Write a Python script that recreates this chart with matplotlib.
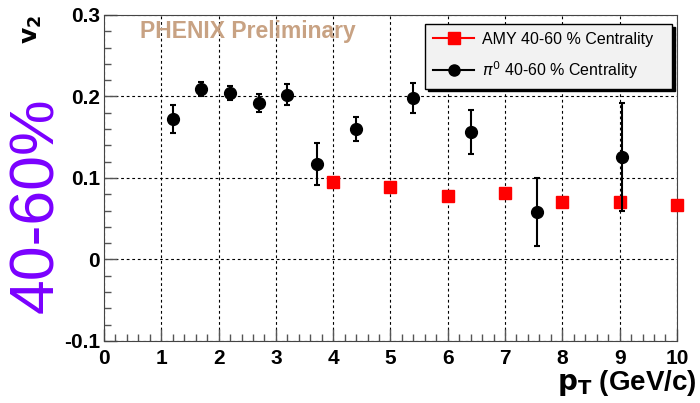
import matplotlib
matplotlib.use('Agg')
import matplotlib.pyplot as plt
from matplotlib.lines import Line2D
from matplotlib.ticker import MultipleLocator

plt.rcParams['font.family'] = ['Liberation Sans', 'DejaVu Sans']

# pi0 v2, 40-60 % centrality
pi0_pt = [1.20, 1.70, 2.20, 2.71, 3.20, 3.72, 4.40, 5.39, 6.40, 7.56, 9.04]
pi0_v2 = [0.172, 0.209, 0.204, 0.192, 0.202, 0.117, 0.160, 0.198, 0.156, 0.058, 0.126]
pi0_err = [0.017, 0.009, 0.009, 0.011, 0.013, 0.026, 0.015, 0.018, 0.027, 0.042, 0.066]

# AMY calculation
amy_pt = [4, 5, 6, 7, 8, 9, 10]
amy_v2 = [0.095, 0.089, 0.078, 0.082, 0.070, 0.071, 0.067]

fig = plt.figure(figsize=(7, 4.03), dpi=100)
ax = fig.add_axes([0.1486, 0.154, 0.8184, 0.809])

ax.errorbar(pi0_pt, pi0_v2, yerr=pi0_err, fmt='o', color='black', ms=8.5,
            elinewidth=1.5, capsize=2.5, capthick=1.5, zorder=4)
ax.plot(amy_pt, amy_v2, 's', color='red', ms=8, zorder=3, clip_on=False)

ax.set_xlim(0, 10)
ax.set_ylim(-0.1, 0.3)
ax.xaxis.set_major_locator(MultipleLocator(1))
ax.xaxis.set_minor_locator(MultipleLocator(0.2))
ax.yaxis.set_minor_locator(MultipleLocator(0.02))
ax.set_yticks([-0.1, 0, 0.1, 0.2, 0.3])
ax.set_yticklabels(['-0.1', '0', '0.1', '0.2', '0.3'])
ax.tick_params(which='both', direction='in', top=False, right=False, color='#555555')
ax.tick_params(which='major', length=9, width=1)
ax.tick_params(which='minor', length=5, width=1)
ax.tick_params(axis='both', labelsize=15)
ax.tick_params(axis='x', pad=6)
ax.tick_params(axis='y', pad=3)
for lab in ax.get_xticklabels() + ax.get_yticklabels():
    lab.set_fontweight('bold')
for s in ax.spines.values():
    s.set_color('#444444')
ax.grid(True, which='major', color='black', linestyle=(0, (2.5, 2.5)), linewidth=0.8)

fig.text(697 / 700, 1 - 383 / 403, r'$\mathbf{p_T}$ (GeV/c)', fontsize=20,
         fontweight='bold', ha='right', va='center')
ax.text(-0.125, 1.0, r'$\mathbf{v_2}$', transform=ax.transAxes, rotation=90,
        fontsize=18, fontweight='bold', ha='center', va='top')

ax.text(0.063, 0.95, 'PHENIX Preliminary', transform=ax.transAxes, fontsize=16.5,
        fontweight='bold', color='#c8a283', va='center')

fig.text(0.052, 0.49, '40-60%', rotation=90, fontsize=45, color='#7a00ff',
         ha='center', va='center')

handles = [Line2D([], [], color='red', marker='s', ms=8, lw=1.5),
           Line2D([], [], color='black', marker='o', ms=8, lw=1.5)]
labels = ['AMY 40-60 % Centrality', r'$\pi^0$ 40-60 % Centrality']
leg = ax.legend(handles, labels, loc='upper left',
                bbox_to_anchor=(0.56, 0.779, 0.431, 0.193), mode='expand',
                borderaxespad=0, fontsize=11.5, frameon=True, fancybox=False,
                edgecolor='black', facecolor='#f2f2f2', framealpha=1,
                shadow={'color': 'black', 'alpha': 1}, handlelength=2.6,
                handletextpad=0.5, borderpad=0.5, labelspacing=0.75)
leg.get_frame().set_linewidth(1)

fig.savefig('out.png', dpi=100)
